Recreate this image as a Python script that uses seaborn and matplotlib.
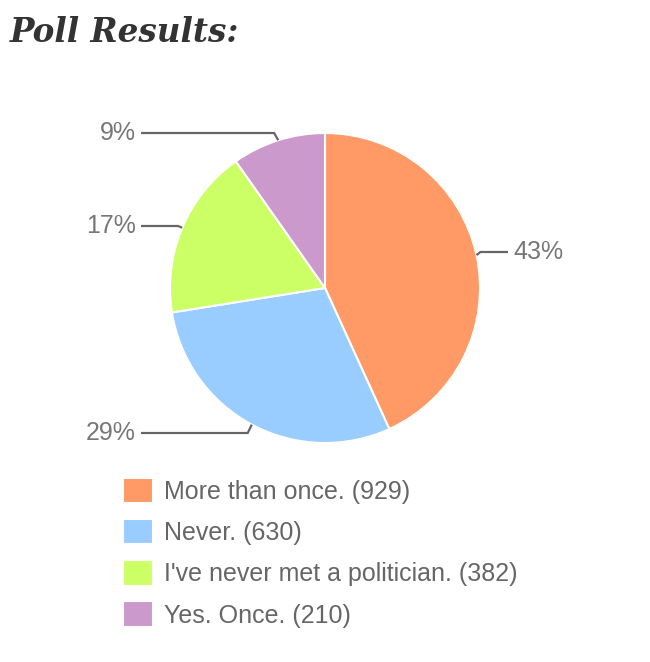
import numpy as np
import matplotlib
matplotlib.use("Agg")
import matplotlib.pyplot as plt
import seaborn as sns

# Poll data
answers = ["More than once.", "Never.", "I've never met a politician.", "Yes. Once."]
votes = [929, 630, 382, 210]
slice_colors = ["#FF9966", "#99CCFF", "#CCFF66", "#CC99CC"]

W, H = 650, 662

sns.set_theme(style="white")
plt.rcParams['font.family'] = ['Liberation Sans', 'DejaVu Sans']

fig = plt.figure(figsize=(W / 100, H / 100), dpi=100)
ax = fig.add_axes([0, 0, 1, 1])

# pie in pixel-like coords (y measured from bottom)
cx, cy, r = 325, H - 288, 155
wedges, _ = ax.pie(votes, colors=sns.color_palette(slice_colors), startangle=90,
                   counterclock=False, center=(cx, cy), radius=r, frame=True,
                   wedgeprops=dict(edgecolor="white", linewidth=1.5))
ax.set_xlim(0, W)
ax.set_ylim(0, H)
ax.axis("off")

# percent labels with leader lines (google-chart style, truncated pct)
total = sum(votes)
label_y = [252, 433, 226, 133]  # pixel rows of label text
line_col = "#666666"
for w, v, ly in zip(wedges, votes, label_y):
    mid = np.deg2rad((w.theta1 + w.theta2) / 2)
    ax_x = cx + r * np.cos(mid)
    ax_y = cy + r * np.sin(mid)
    ty = H - ly
    pct = f"{int(100 * v / total)}%"
    if np.cos(mid) > 0:
        ax.plot([ax_x, ax_x + 4, 508], [ax_y, ty, ty], color=line_col, lw=1.6,
                solid_capstyle="butt")
        ax.text(513, ty, pct, ha="left", va="center", fontsize=18, color="#777777")
    else:
        ax.plot([141, ax_x - 4, ax_x], [ty, ty, ax_y], color=line_col, lw=1.6,
                solid_capstyle="butt")
        ax.text(136, ty, pct, ha="right", va="center", fontsize=18, color="#777777")

# legend below
labels = [f"{a} ({v})" for a, v in zip(answers, votes)]
leg = ax.legend(wedges, labels, loc="upper left", bbox_to_anchor=(122.5 / W, 1 - 477.5 / H),
                frameon=False, fontsize=18, borderpad=0, borderaxespad=0,
                handlelength=1.2, handleheight=1.2, handletextpad=0.44,
                labelspacing=0.6)
for t in leg.get_texts():
    t.set_color("#666666")

# title
fig.text(10 / W, 1 - 42 / H, "Poll Results:", fontsize=23.5, fontweight="bold",
         fontstyle="italic", family=["DejaVu Serif"], color="#333333", va="baseline")

fig.savefig("out.png", dpi=100)
